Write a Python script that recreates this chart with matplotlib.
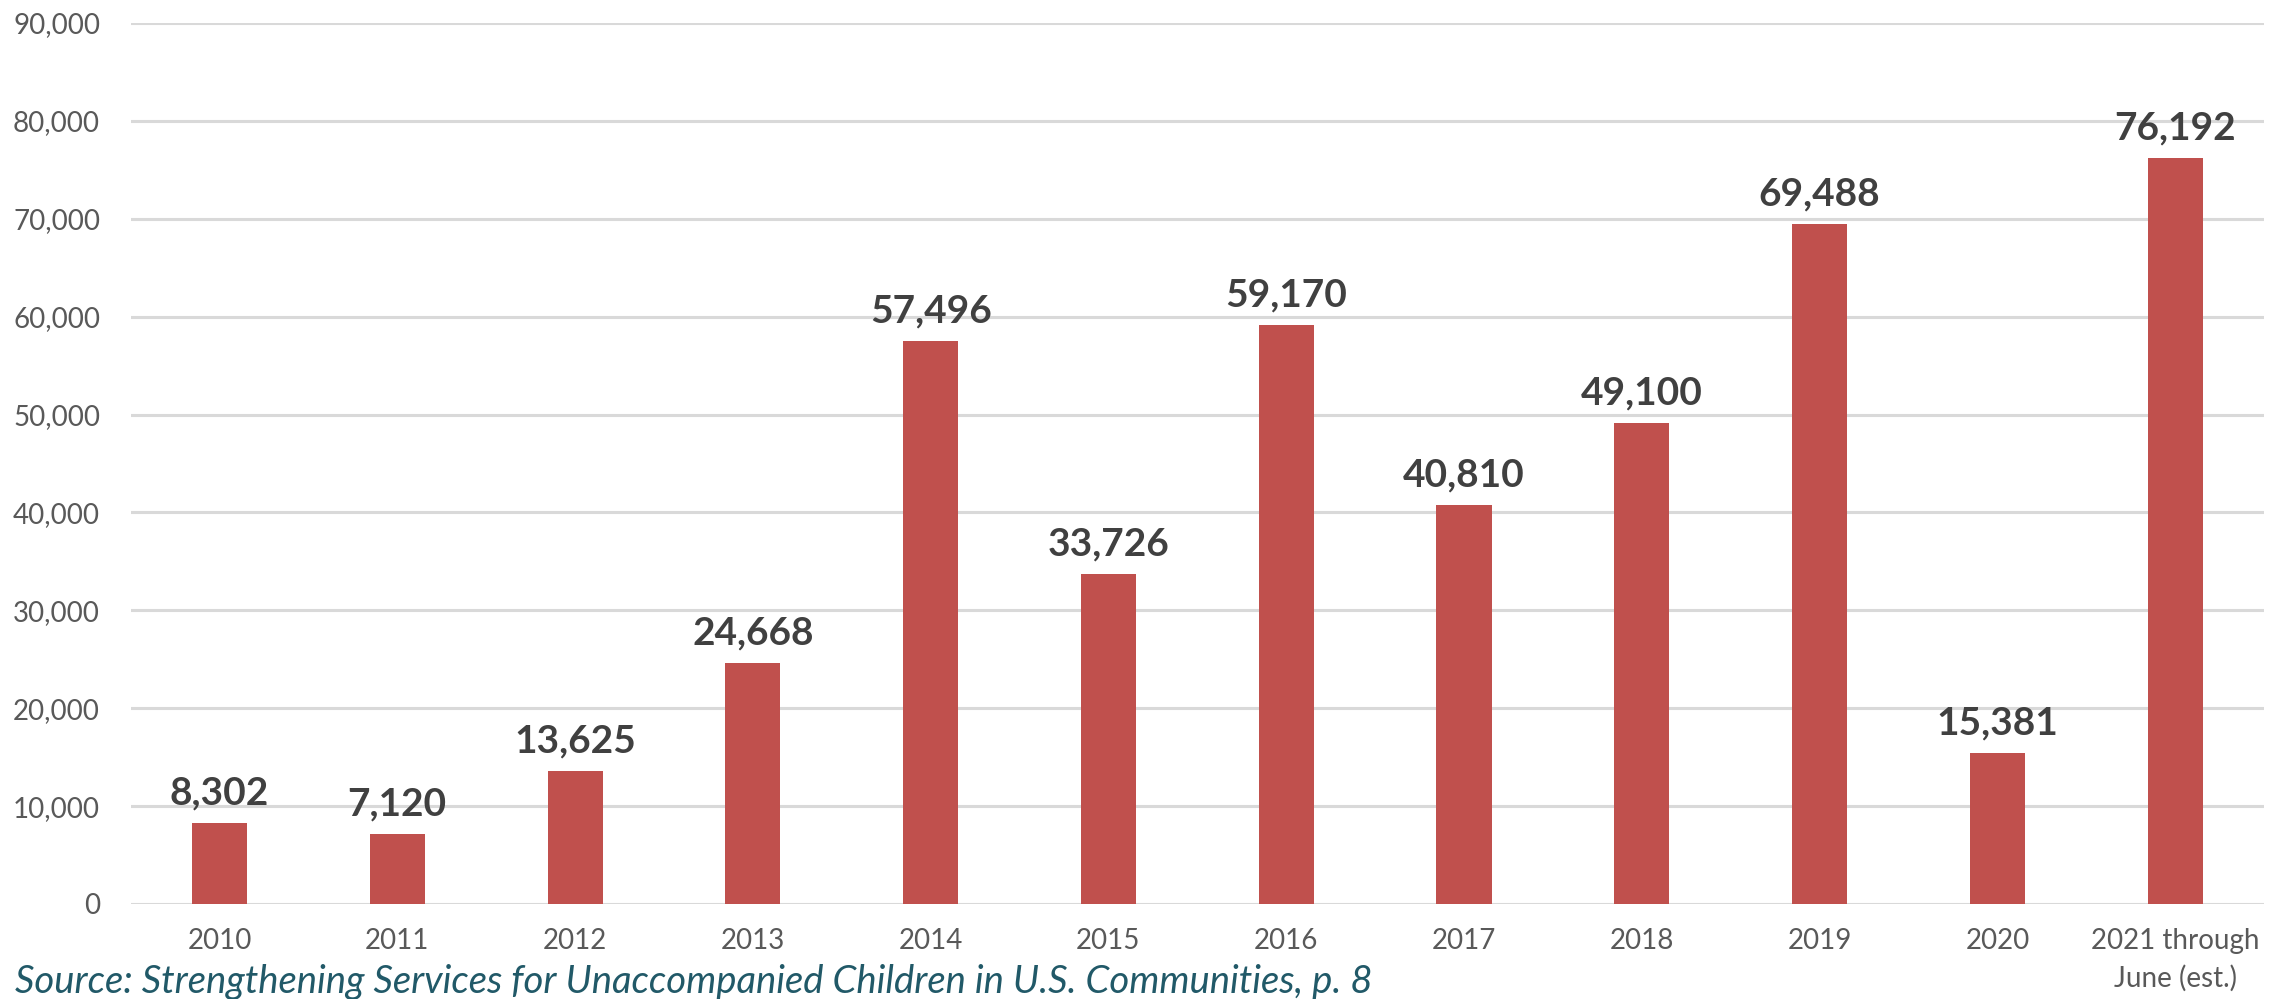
import matplotlib
matplotlib.use("Agg")
import matplotlib.pyplot as plt
import numpy as np

categories = ["2010", "2011", "2012", "2013", "2014", "2015", "2016", "2017",
              "2018", "2019", "2020", "2021 through\nJune (est.)"]
values = [8302, 7120, 13625, 24668, 57496, 33726, 59170, 40810, 49100, 69488, 15381, 76192]
yticks = [0, 10000, 20000, 30000, 40000, 50000, 60000, 70000, 80000, 90000]
source_text = "Source: Strengthening Services for Unaccompanied Children in U.S. Communities, p. 8"

plt.rcParams['font.family'] = ['Lato', 'DejaVu Sans']

fig = plt.figure(figsize=(22.75, 9.99), dpi=100)
ax = fig.add_axes([0.0574, 0.0951, 0.9378, 0.8819])

x = np.arange(len(categories))
ax.bar(x, values, width=0.31, color="#C0504D", zorder=3)
ax.set_xlim(-0.5, len(categories) - 0.5)
ax.set_ylim(0, 90000)
ax.set_yticks(yticks)
ax.set_yticklabels([f"{v:,}" for v in yticks])
ax.set_xticks(x)
ax.set_xticklabels(categories, linespacing=1.5)
ax.yaxis.grid(True, color="#D9D9D9", linewidth=2.2, zorder=0)
ax.set_axisbelow(True)
for s in ax.spines.values():
    s.set_visible(False)
ax.tick_params(axis='both', length=0, labelsize=20, labelcolor="#595959")
ax.tick_params(axis='y', pad=22)
ax.tick_params(axis='x', pad=17)

for xi, v in zip(x, values):
    ax.annotate(f"{v:,}", (xi, v), xytext=(0, 9), textcoords='offset points',
                ha='center', va='bottom', fontsize=28, fontweight='bold', color="#404040")

fig.text(0.0064, 0.006, source_text, fontsize=27.5, style='italic', color="#215968",
         ha='left', va='baseline')

fig.savefig("out.png", dpi=100)
